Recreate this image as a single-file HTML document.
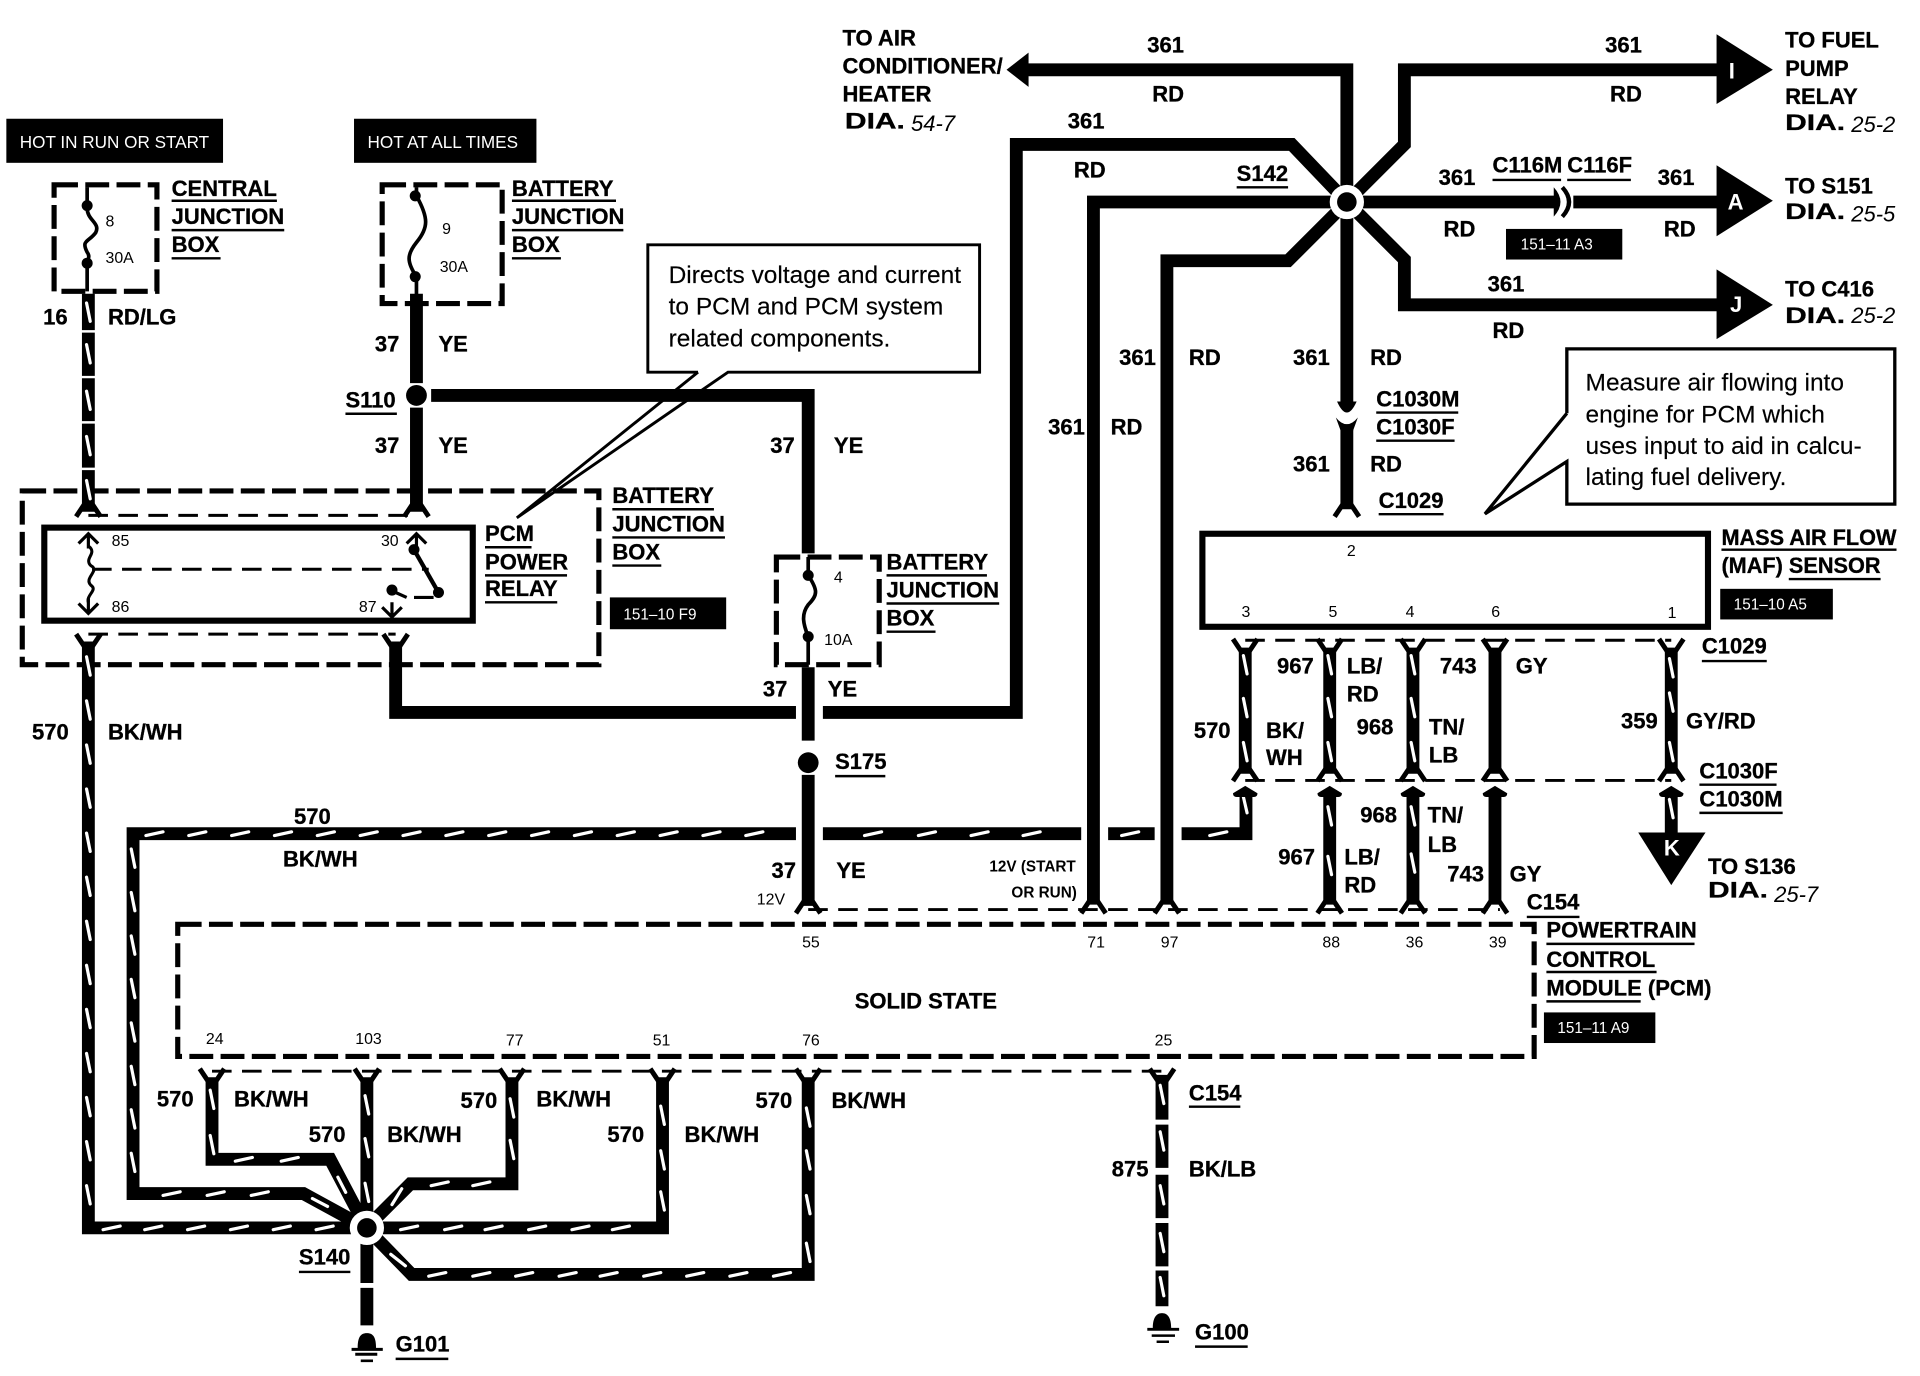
<!DOCTYPE html>
<html><head><meta charset="utf-8"><style>
html,body{margin:0;padding:0;background:#fff}
svg{display:block}
text{font-family:"Liberation Sans",sans-serif;fill:#000}
.b{font-weight:700;font-size:18px;stroke:#000;stroke-width:.25}
.s{font-size:13px}
.c{font-size:20px;stroke:#000;stroke-width:.12}
.w{font-size:12.5px;fill:#fff}
.i{font-style:italic;font-size:18px}
.sb{font-weight:700;font-size:12.5px}
.l{fill:none;stroke:#000;stroke-width:2}
.box{fill:none;stroke:#000;stroke-width:4.2;stroke-dasharray:19.5 6}
.th{fill:none;stroke:#000;stroke-width:2.4;stroke-dasharray:16 8.5}
.sol{fill:none;stroke:#000;stroke-width:10.5;stroke-linejoin:miter}
.fine{fill:none;stroke:#000;stroke-width:3}
.tick{fill:none;stroke:#fff;stroke-width:2.6;stroke-linecap:round}
</style></head><body>
<svg xmlns="http://www.w3.org/2000/svg" width="1920" height="1376" viewBox="0 0 1568 1124">
<rect width="1568" height="1124" fill="#fff"/>
<defs>
<path id="fd" d="M-10 6L-4 -3H4L10 6" fill="none" stroke="#000" stroke-width="4"/>
<path id="fu" d="M-10 -6L-4 3H4L10 -6" fill="none" stroke="#000" stroke-width="4"/>
<path id="mu" d="M0 0L-10 6Q-10 9 -7 9H7Q10 9 10 6Z"/>
<path id="thinu" d="M-8 6L0 -2L8 6M0 -2V10" fill="none" stroke="#000" stroke-width="2.6"/>
<path id="thind" d="M-8 -6L0 2L8 -6M0 2V-10" fill="none" stroke="#000" stroke-width="2.6"/>
</defs>

<!-- tags -->
<rect x="5" y="97" width="177" height="36" fill="#000"/>
<rect x="289" y="97" width="149" height="36" fill="#000"/>
<rect x="498" y="488" width="95" height="26" fill="#000"/>
<rect x="1230" y="187" width="95" height="25" fill="#000"/>
<rect x="1405" y="481" width="92" height="25" fill="#000"/>
<rect x="1261" y="827" width="91" height="25" fill="#000"/>
<text class="w" x="16" y="121" style="font-size:14px">HOT IN RUN OR START</text>
<text class="w" x="300" y="121" style="font-size:14px" textLength="123" lengthAdjust="spacingAndGlyphs">HOT AT ALL TIMES</text>
<text class="w" x="509" y="506">151–10 F9</text>
<text class="w" x="1242" y="204">151–11 A3</text>
<text class="w" x="1416" y="498">151–10 A5</text>
<text class="w" x="1272" y="844">151–11 A9</text>

<!-- dashed boxes -->
<rect class="box" x="44" y="151" width="84" height="87"/>
<rect class="box" x="312" y="151" width="98" height="97"/>
<rect class="box" x="18" y="401" width="471" height="142"/>
<rect class="box" x="634" y="455" width="84" height="88"/>
<rect class="box" x="145" y="755" width="1108" height="108"/>

<!-- thin connector dashes -->
<path class="th" d="M72 421H340M72 518H323"/>
<path class="th" d="M1017 523H1365M1017 637.5H1365"/>
<path class="th" d="M660 743H1225"/>
<path class="th" d="M173 875H949"/>

<!-- relay & MAF -->
<rect x="36" y="431" width="350" height="76" fill="none" stroke="#000" stroke-width="5"/>
<rect x="982" y="436" width="413" height="76" fill="none" stroke="#000" stroke-width="5"/>

<!-- solid wires -->
<path class="sol" d="M340 240V313M340 333V418"/>
<path class="sol" d="M352 323H660V452"/>
<path class="sol" d="M660 545V605M660 633V740"/>
<path class="sol" d="M672 582H830V118H1055L1100 165"/>
<path class="sol" d="M323 524V582H650"/>
<path class="sol" d="M672 681H883M905 681H943"/>
<path class="sol" d="M893 738V165H1100"/>
<path class="sol" d="M953 738V213H1052L1100 165"/>
<path class="sol" d="M838 57H1100V165"/>
<path class="sol" d="M1100 165L1147 118V57H1405"/>
<path class="sol" d="M1100 165H1272M1285 165H1405"/>
<path class="sol" d="M1100 165L1147 212V249H1405"/>
<path class="sol" d="M1100 165V332M1100 350V416"/>
<path class="sol" d="M1221 530V632M1221 650V738"/>
<path class="sol" d="M299.5 1010V1048M299.5 1052V1082.6"/>

<!-- tracer wires: black body -->
<g class="sol">
<path d="M72 240V418"/>
<path d="M72 524V1003H299"/>
<path d="M650 681H108.5V975H247.7L299 1003"/>
<path d="M173 882V947H269.5L299 1003"/>
<path d="M299.5 882V1003"/>
<path d="M418 882V967H335L299 1003"/>
<path d="M541 882V1003H299"/>
<path d="M660 882V1041H336L299 1003"/>
<path d="M949 878V914.6M949 918.7V954M949 959.6V995M949 999V1034.5M949 1037.8V1067"/>
<path d="M1017 530V632M1086 530V632M1154 530V632M1365 530V632"/>
<path d="M965 681H1017.6V650"/>
<path d="M1086 650V738M1154 650V738M1365 650V682"/>
</g>
<!-- wire segment gaps -->
<path d="M64 270.7H80M64 308H80M64 345H80M64 383H80" stroke="#fff" stroke-width="2"/>

<!-- tracer ticks -->
<path class="tick" d="
M70.5 247.5l3 15M70.5 281.5l3 15M70.5 319.5l3 15M70.5 356.5l3 15M70.5 392.5l3 15
M70.5 536.5l3 15m-3 21l3 15m-3 21l3 15m-3 21l3 15m-3 21l3 15m-3 21l3 15m-3 21l3 15m-3 21l3 15m-3 21l3 15m-3 21l3 15m-3 21l3 15m-3 21l3 15m-3 21l3 15
M107 693.5l3 15m-3 20.5l3 15m-3 20.5l3 15m-3 20.5l3 15m-3 20.5l3 15m-3 20.5l3 15m-3 20.5l3 15m-3 20.5l3 15
M171.5 890.5l3 15M171.5 927.5l3 15
M298 895l3 15M298 930l3 15M298 966.5l3 15
M416.5 897.5l3 15M416.5 931.5l3 15
M539.5 903.5l3 15M539.5 940l3 15M539.5 973.5l3 15
M658.5 905l3 15M658.5 940l3 15M658.5 976.5l3 15M658.5 1015.5l3 15
M947.5 886.5l3 15M947.5 924.5l3 15M947.5 968.5l3 15M947.5 1007.5l3 15M947.5 1043.5l3 15
M1015.5 535.5l3 15M1015.5 570.5l3 15M1015.5 606.5l3 15
M1084.5 535.5l3 15M1084.5 570.5l3 15M1084.5 606.5l3 15
M1152.5 535.5l3 15M1152.5 570.5l3 15M1152.5 606.5l3 15
M1363.5 538l3 15M1363.5 566l3 15M1363.5 606.5l3 15
M1015.5 651l3 13
M1084.5 659l3 15M1084.5 699.5l3 15
M1152.5 659l3 15M1152.5 697.5l3 15
M1363.5 653l3 15
M119 682.5l14 -3m21 3l14 -3m21 3l14 -3m21 3l14 -3m21 3l14 -3m21 3l14 -3m21 3l14 -3m21 3l14 -3m21 3l14 -3m21 3l14 -3m21 3l14 -3m21 3l14 -3m21 3l14 -3m21 3l14 -3m21 3l14 -3
M706 682.5l14 -3M750 682.5l14 -3M793 682.5l14 -3M835.5 682.5l14 -3M916 682.5l14 -3M988 682.5l14 -3
M84 1004.5l14 -3M118 1004.5l14 -3M153 1004.5l14 -3M188 1004.5l14 -3M223 1004.5l14 -3M258 1004.5l14 -3
M327 1004.5l14 -3M363 1004.5l14 -3M396 1004.5l14 -3M431.6 1004.5l14 -3M467 1004.5l14 -3M500 1004.5l14 -3
M133 976.5l14 -3M169 976.5l14 -3M205 976.5l14 -3
M192 948.5l14 -3M229.5 948.5l14 -3
M352 968.5l14 -3M386 968.5l14 -3
M350 1042.5l14 -3M386 1042.5l14 -3M421 1042.5l14 -3M456.5 1042.5l14 -3M490 1042.5l14 -3M525.6 1042.5l14 -3M560.7 1042.5l14 -3M596 1042.5l14 -3M631.6 1042.5l14 -3
M275.8 961.6l6.4 12.4
M255 979l12.4 6.5
M320 984l8 -13
M319 1024.6l12 9.4"/>

<!-- arrowheads -->
<path d="M822 57L840 43V71Z"/>
<path d="M1402 28L1448 57L1402 85Z"/>
<path d="M1402 135L1448 164L1402 193Z"/>
<path d="M1402 220L1448 249L1402 277Z"/>
<path d="M1338 680H1393L1365 723Z"/>
<text x="1412" y="64" style="font-size:18px;font-weight:700;fill:#fff">I</text>
<text x="1411" y="171" style="font-size:18px;font-weight:700;fill:#fff">A</text>
<text x="1413" y="255" style="font-size:18px;font-weight:700;fill:#fff">J</text>
<text x="1359" y="699" style="font-size:18px;font-weight:700;fill:#fff">K</text>

<!-- connector forks -->
<use href="#fd" x="72" y="416"/><use href="#fd" x="340" y="416"/>
<use href="#fu" x="72" y="524"/><use href="#fu" x="323" y="524"/>
<use href="#fd" x="1100" y="416"/>
<use href="#fu" x="1017" y="528"/><use href="#fu" x="1086" y="528"/><use href="#fu" x="1154" y="528"/><use href="#fu" x="1221" y="528"/><use href="#fu" x="1365" y="528"/>
<use href="#fd" x="1017" y="632"/><use href="#fd" x="1086" y="632"/><use href="#fd" x="1154" y="632"/><use href="#fd" x="1221" y="632"/><use href="#fd" x="1365" y="632"/>
<use href="#mu" x="1017" y="642"/><use href="#mu" x="1086" y="642"/><use href="#mu" x="1154" y="642"/><use href="#mu" x="1221" y="642"/><use href="#mu" x="1365" y="642"/>
<use href="#fd" x="660" y="740"/><use href="#fd" x="893" y="740"/><use href="#fd" x="953" y="740"/><use href="#fd" x="1086" y="740"/><use href="#fd" x="1154" y="740"/><use href="#fd" x="1221" y="740"/>
<use href="#fu" x="173" y="879"/><use href="#fu" x="299.5" y="879"/><use href="#fu" x="418" y="879"/><use href="#fu" x="541" y="879"/><use href="#fu" x="660" y="879"/><use href="#fu" x="949" y="879"/>
<!-- C1030 connector on 361 -->
<path d="M1092 328Q1100 346 1108 328Z"/>
<path d="M1091 341Q1100 352 1109 341L1105 352H1095Z"/>
<!-- C116 connector -->
<path d="M1269 153Q1280 165 1269 177Z"/>
<path d="M1276 153Q1287 165 1276 177" fill="none" stroke="#000" stroke-width="3.5"/>

<!-- splices -->
<circle cx="1100" cy="165" r="14" fill="#fff"/><circle cx="1100" cy="165" r="8"/>
<circle cx="299.5" cy="1003" r="14" fill="#fff"/><circle cx="299.5" cy="1003" r="8"/>
<circle cx="340" cy="323" r="8.5"/>
<circle cx="660" cy="623" r="8.5"/>

<!-- fuses -->
<path class="fine" d="M71 153V170C71 180 82 182 78 190C72 198 66 196 71 206C74 210 71 212 71 216V238"/>
<circle cx="71" cy="168" r="4.5"/><circle cx="71" cy="215" r="4.5"/>
<path class="fine" d="M340 153V160C350 178 350 186 340 198C332 208 332 214 340 226V248"/>
<circle cx="339" cy="160" r="4.5"/><circle cx="339" cy="226" r="4.5"/>
<path class="fine" d="M660 455V470C668 482 668 486 660 494C654 502 656 510 660 520V543"/>
<circle cx="660" cy="470" r="4.5"/><circle cx="660" cy="520" r="4.5"/>

<!-- relay internals -->
<use href="#thinu" x="72" y="438"/><use href="#thind" x="72" y="499"/>
<path class="fine" style="stroke-width:2.5" d="M72 446C80 452 68 456 74 462C82 466 68 472 74 478C80 482 70 486 72 492"/>
<path class="th" d="M75 465H350"/>
<use href="#thinu" x="340" y="438"/>
<circle cx="338" cy="449" r="4.5"/><circle cx="358" cy="484" r="4.5"/><circle cx="320" cy="482" r="4.5"/>
<path d="M338 449L358 484" stroke="#000" stroke-width="3.5"/>
<path d="M323 484L332 488M338 488H354" stroke="#000" stroke-width="2.6"/>
<use href="#thind" x="320" y="502"/>

<!-- grounds -->
<path d="M292 1101C292 1093 294 1089 299.5 1089C305 1089 307 1093 307 1101ZM287 1101H312.5V1103.5H287ZM290 1105H308V1107.5H290ZM294.5 1110.5H304.5V1112.7H294.5Z"/>
<path d="M941.5 1084.7C941.5 1077 944 1072.6 949 1072.6C954 1072.6 956.5 1077 956.5 1084.7ZM937 1084.7H963V1087H937ZM940.6 1090H959.6V1092H940.6ZM944.6 1095H954.7V1097H944.6Z"/>

<!-- callouts -->
<path fill="none" stroke="#000" stroke-width="2.4" d="M570 304H529V200H800V304H594.5L422 423L570 304"/>
<path fill="none" stroke="#000" stroke-width="2.7" d="M1279.7 337.6V285H1547.6V411.8H1279.7V377L1212.8 419.8L1279.7 337.6"/>
<text class="c" x="546" y="231">Directs voltage and current</text>
<text class="c" x="546" y="257">to PCM and PCM system</text>
<text class="c" x="546" y="283">related components.</text>
<text class="c" x="1295" y="319">Measure air flowing into</text>
<text class="c" x="1295" y="345">engine for PCM which</text>
<text class="c" x="1295" y="371">uses input to aid in calcu-</text>
<text class="c" x="1295" y="396">lating fuel delivery.</text>

<!-- bold labels -->
<g class="b">
<text x="140" y="160">CENTRAL</text><text x="140" y="183">JUNCTION</text><text x="140" y="206">BOX</text>
<text x="418" y="160">BATTERY</text><text x="418" y="183">JUNCTION</text><text x="418" y="206">BOX</text>
<text x="35" y="265">16</text><text x="88" y="265">RD/LG</text>
<text x="306" y="287">37</text><text x="358" y="287">YE</text>
<text x="282" y="333">S110</text>
<text x="306" y="370">37</text><text x="358" y="370">YE</text>
<text x="629" y="370">37</text><text x="681" y="370">YE</text>
<text x="396" y="442">PCM</text><text x="396" y="465">POWER</text><text x="396" y="487">RELAY</text>
<text x="500" y="411">BATTERY</text><text x="500" y="434">JUNCTION</text><text x="500" y="457">BOX</text>
<text x="724" y="465">BATTERY</text><text x="724" y="488">JUNCTION</text><text x="724" y="511">BOX</text>
<text x="623" y="569">37</text><text x="676" y="569">YE</text>
<text x="26" y="604">570</text><text x="88" y="604">BK/WH</text>
<text x="682" y="628">S175</text>
<text x="240" y="673">570</text><text x="231" y="708">BK/WH</text>
<text x="630" y="717">37</text><text x="683" y="717">YE</text>
<text x="698" y="824">SOLID STATE</text>
<text x="1247" y="743">C154</text>
<text x="1263" y="766">POWERTRAIN</text><text x="1263" y="790">CONTROL</text><text x="1263" y="813">MODULE (PCM)</text>
<text x="128" y="904">570</text><text x="191" y="904">BK/WH</text>
<text x="252" y="933">570</text><text x="316" y="933">BK/WH</text>
<text x="376" y="905">570</text><text x="438" y="904">BK/WH</text>
<text x="496" y="933">570</text><text x="559" y="933">BK/WH</text>
<text x="617" y="905">570</text><text x="679" y="905">BK/WH</text>
<text x="971" y="899">C154</text>
<text x="908" y="961">875</text><text x="971" y="961">BK/LB</text>
<text x="244" y="1033">S140</text><text x="323" y="1104">G101</text><text x="976" y="1094">G100</text>
<text x="688" y="37">TO AIR</text><text x="688" y="60">CONDITIONER/</text><text x="688" y="83">HEATER</text>
<text x="690" y="105" textLength="49" lengthAdjust="spacingAndGlyphs">DIA.</text>
<text x="937" y="43">361</text><text x="941" y="83">RD</text>
<text x="1311" y="43">361</text><text x="1315" y="83">RD</text>
<text x="1458" y="39">TO FUEL</text><text x="1458" y="62">PUMP</text><text x="1458" y="85">RELAY</text>
<text x="1458" y="106" textLength="49" lengthAdjust="spacingAndGlyphs">DIA.</text>
<text x="872" y="105">361</text><text x="877" y="145">RD</text>
<text x="1010" y="148">S142</text>
<text x="1175" y="151">361</text><text x="1179" y="193">RD</text>
<text x="1219" y="141">C116M</text><text x="1280" y="141">C116F</text>
<text x="1354" y="151">361</text><text x="1359" y="193">RD</text>
<text x="1458" y="158">TO S151</text>
<text x="1458" y="179" textLength="49" lengthAdjust="spacingAndGlyphs">DIA.</text>
<text x="1215" y="238">361</text><text x="1219" y="276">RD</text>
<text x="1458" y="242">TO C416</text>
<text x="1458" y="264" textLength="49" lengthAdjust="spacingAndGlyphs">DIA.</text>
<text x="914" y="298">361</text><text x="971" y="298">RD</text>
<text x="1056" y="298">361</text><text x="1119" y="298">RD</text>
<text x="856" y="355">361</text><text x="907" y="355">RD</text>
<text x="1124" y="332">C1030M</text><text x="1124" y="355">C1030F</text>
<text x="1056" y="385">361</text><text x="1119" y="385">RD</text>
<text x="1126" y="415">C1029</text>
<text x="1406" y="445" textLength="143" lengthAdjust="spacingAndGlyphs">MASS AIR FLOW</text><text x="1406" y="468" textLength="130" lengthAdjust="spacingAndGlyphs">(MAF) SENSOR</text>
<text x="1390" y="534">C1029</text>
<text x="1043" y="550">967</text><text x="1100" y="550">LB/</text><text x="1100" y="573">RD</text>
<text x="1176" y="550">743</text><text x="1238" y="550">GY</text>
<text x="975" y="603">570</text><text x="1034" y="603">BK/</text><text x="1034" y="625">WH</text>
<text x="1108" y="600">968</text><text x="1167" y="600">TN/</text><text x="1167" y="623">LB</text>
<text x="1324" y="595">359</text><text x="1377" y="595">GY/RD</text>
<text x="1388" y="636">C1030F</text><text x="1388" y="659">C1030M</text>
<text x="1111" y="672">968</text><text x="1166" y="672">TN/</text><text x="1166" y="696">LB</text>
<text x="1044" y="706">967</text><text x="1098" y="706">LB/</text><text x="1098" y="729">RD</text>
<text x="1182" y="720">743</text><text x="1233" y="720">GY</text>
<text x="1395" y="714">TO S136</text>
<text x="1395" y="733" textLength="49" lengthAdjust="spacingAndGlyphs">DIA.</text>
</g>
<text class="i" x="744" y="107">54-7</text>
<text class="i" x="1512" y="108">25-2</text>
<text class="i" x="1512" y="181">25-5</text>
<text class="i" x="1512" y="264">25-2</text>
<text class="i" x="1449" y="737">25-7</text>

<!-- small labels -->
<g class="s">
<text x="86" y="185">8</text><text x="86" y="215">30A</text>
<text x="361" y="191">9</text><text x="359" y="222">30A</text>
<text x="91" y="446">85</text><text x="311" y="446">30</text>
<text x="91" y="500">86</text><text x="293" y="500">87</text>
<text x="681" y="476">4</text><text x="673" y="527">10A</text>
<text x="618" y="739">12V</text>
<text x="655" y="774">55</text><text x="888" y="774">71</text><text x="948" y="774">97</text>
<text x="1080" y="774">88</text><text x="1148" y="774">36</text><text x="1216" y="774">39</text>
<text x="168" y="853">24</text><text x="290" y="853">103</text><text x="413" y="854">77</text>
<text x="533" y="854">51</text><text x="655" y="854">76</text><text x="943" y="854">25</text>
<text x="1100" y="454">2</text><text x="1014" y="504">3</text><text x="1085" y="504">5</text>
<text x="1148" y="504">4</text><text x="1218" y="504">6</text><text x="1362" y="505">1</text>
</g>
<text class="sb" x="808" y="712">12V (START</text>
<text class="sb" x="826" y="733">OR RUN)</text>

<!-- underlines -->
<path class="l" d="M140 164H226M140 188H232M140 211H180
M418 164H503M418 188H509M418 211H458
M282 338H324
M396 447H434M396 470H463M396 492H455
M500 416H583M500 439H592M500 462H540
M724 470H806M724 493H816M724 516H764
M682 634H723
M1247 749H1290M1263 771H1384M1263 794H1353M1263 818H1340
M971 904H1013
M244 1039H286M323 1110H366M976 1100H1019
M1010 153H1052
M1219 147H1275M1280 147H1332
M1124 337H1191M1124 360H1188
M1126 420H1179
M1406 449H1549M1461 473H1536
M1390 540H1443
M1388 641H1451M1388 664H1456"/>
</svg>
</body></html>
